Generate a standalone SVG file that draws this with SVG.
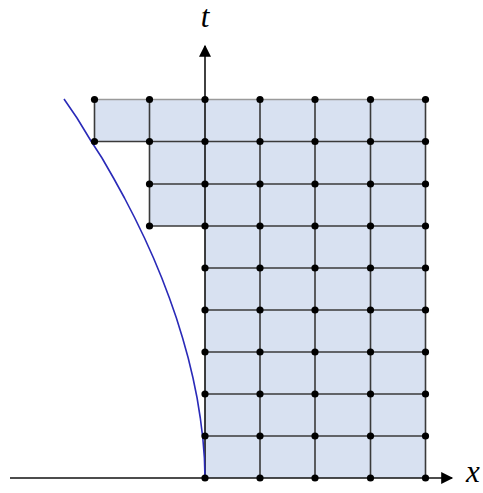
<svg xmlns="http://www.w3.org/2000/svg" width="483" height="493" viewBox="0 0 483 493">
<style>
.grid{stroke:#3a3a3a;stroke-width:1.6;fill:none}
.light{stroke:#9a9a9a;stroke-width:1.6;fill:none}
.axis{stroke:#111;stroke-width:1.6;fill:none}
.dot{fill:#000}
.lbl{font-style:italic;font-size:31px;fill:#000}
</style>
<defs>
<marker id="arr" viewBox="0 0 10 10" refX="9" refY="5" markerWidth="13" markerHeight="12" markerUnits="userSpaceOnUse" orient="auto">
<path d="M0,0 L10,5 L0,10 Z" fill="#000"/>
</marker>
</defs>
<rect width="483" height="493" fill="#fff"/>
<g id="region">
<path d="M94.5,99.5 H425.5 V478 H205 V226 H149.5 V141.5 H94.5 Z" fill="#d8e1f1" stroke="none"/>
</g>
<g id="connectors">
<path class="light" d="M94.5,99.5 H425.5"/>
<path class="grid" d="M94.5,141.5 H425.5 M149.5,184 H425.5 M149.5,226 H425.5 M205,268 H425.5 M205,310 H425.5 M205,352 H425.5 M205,394 H425.5 M205,436 H425.5"/>
<path class="grid" d="M94.5,99.5 V141.5 M149.5,99.5 V226 M260,99.5 V478 M315,99.5 V478 M370.5,99.5 V478 M425.5,99.5 V478"/>
<path class="axis" d="M10,478 H452" marker-end="url(#arr)"/>
<path class="axis" d="M205,478 V46" marker-end="url(#arr)"/>
<path id="curve" d="M205,478 L204.4,458 L202.8,438 L200.3,418 L197.1,398 L193,378 L188.2,358 L182.6,338 L176.4,318 L169.4,298 L161.8,278 L153.5,258 L144.5,238 L134.8,218 L124.5,198 L113.5,178 L102,158 L91,141 L77,118 L64,99" fill="none" stroke="#2a2ab8" stroke-width="1.6" stroke-linejoin="round"/>
</g>
<g id="dots" class="dot">
<circle cx="94.5" cy="99.5" r="3.6"/><circle cx="149.5" cy="99.5" r="3.6"/><circle cx="205" cy="99.5" r="3.6"/><circle cx="260" cy="99.5" r="3.6"/><circle cx="315" cy="99.5" r="3.6"/><circle cx="370.5" cy="99.5" r="3.6"/><circle cx="425.5" cy="99.5" r="3.6"/>
<circle cx="94.5" cy="141.5" r="3.6"/><circle cx="149.5" cy="141.5" r="3.6"/><circle cx="205" cy="141.5" r="3.6"/><circle cx="260" cy="141.5" r="3.6"/><circle cx="315" cy="141.5" r="3.6"/><circle cx="370.5" cy="141.5" r="3.6"/><circle cx="425.5" cy="141.5" r="3.6"/>
<circle cx="149.5" cy="184" r="3.6"/><circle cx="205" cy="184" r="3.6"/><circle cx="260" cy="184" r="3.6"/><circle cx="315" cy="184" r="3.6"/><circle cx="370.5" cy="184" r="3.6"/><circle cx="425.5" cy="184" r="3.6"/>
<circle cx="149.5" cy="226" r="3.6"/><circle cx="205" cy="226" r="3.6"/><circle cx="260" cy="226" r="3.6"/><circle cx="315" cy="226" r="3.6"/><circle cx="370.5" cy="226" r="3.6"/><circle cx="425.5" cy="226" r="3.6"/>
<circle cx="205" cy="268" r="3.6"/><circle cx="260" cy="268" r="3.6"/><circle cx="315" cy="268" r="3.6"/><circle cx="370.5" cy="268" r="3.6"/><circle cx="425.5" cy="268" r="3.6"/>
<circle cx="205" cy="310" r="3.6"/><circle cx="260" cy="310" r="3.6"/><circle cx="315" cy="310" r="3.6"/><circle cx="370.5" cy="310" r="3.6"/><circle cx="425.5" cy="310" r="3.6"/>
<circle cx="205" cy="352" r="3.6"/><circle cx="260" cy="352" r="3.6"/><circle cx="315" cy="352" r="3.6"/><circle cx="370.5" cy="352" r="3.6"/><circle cx="425.5" cy="352" r="3.6"/>
<circle cx="205" cy="394" r="3.6"/><circle cx="260" cy="394" r="3.6"/><circle cx="315" cy="394" r="3.6"/><circle cx="370.5" cy="394" r="3.6"/><circle cx="425.5" cy="394" r="3.6"/>
<circle cx="205" cy="436" r="3.6"/><circle cx="260" cy="436" r="3.6"/><circle cx="315" cy="436" r="3.6"/><circle cx="370.5" cy="436" r="3.6"/><circle cx="425.5" cy="436" r="3.6"/>
<circle cx="205" cy="478" r="3.6"/><circle cx="260" cy="478" r="3.6"/><circle cx="315" cy="478" r="3.6"/><circle cx="370.5" cy="478" r="3.6"/><circle cx="425.5" cy="478" r="3.6"/>
</g>
<g id="labels">
<text class="lbl" font-family="'Liberation Serif', 'Times New Roman', serif" x="205" y="27" text-anchor="middle">t</text>
<text class="lbl" font-family="'Liberation Serif', 'Times New Roman', serif" x="473" y="482" text-anchor="middle">x</text>
</g>
</svg>
